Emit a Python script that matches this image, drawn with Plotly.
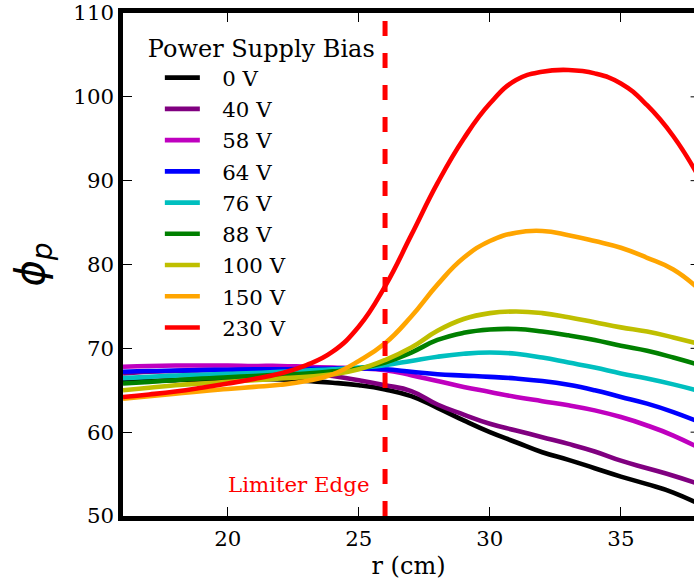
import plotly.graph_objects as go

# Radial positions (cm)
r_cm = [16, 17, 18, 19, 20, 21, 22, 23, 24, 25, 26, 27, 28, 29, 30,
        31, 32, 33, 34, 35, 36, 37, 38]

# Plasma potential profiles for each power-supply bias
phi_0V = [66.0, 66.1, 66.2, 66.3, 66.3, 66.3, 66.3, 66.1, 65.9, 65.6, 65.1, 64.3,
          62.9, 61.4, 60.0, 58.8, 57.6, 56.7, 55.7, 54.7, 53.8, 52.8, 51.4]
phi_40V = [67.0, 67.2, 67.3, 67.4, 67.4, 67.4, 67.3, 67.1, 66.7, 66.2, 65.6, 64.9,
           63.3, 62.1, 61.0, 60.2, 59.4, 58.6, 57.7, 56.6, 55.7, 54.8, 53.8]
phi_58V = [67.8, 67.9, 67.95, 67.95, 67.95, 67.9, 67.9, 67.8, 67.7, 67.6, 67.4, 66.8,
           66.1, 65.4, 64.8, 64.2, 63.7, 63.2, 62.6, 61.8, 60.8, 59.6, 58.1]
phi_64V = [67.2, 67.3, 67.35, 67.4, 67.45, 67.5, 67.5, 67.55, 67.6, 67.6, 67.5, 67.2,
           66.9, 66.75, 66.6, 66.4, 66.1, 65.65, 65.0, 64.2, 63.4, 62.4, 61.2]
phi_76V = [66.45, 66.6, 66.75, 66.85, 66.95, 67.05, 67.2, 67.35, 67.5, 67.7, 68.0, 68.5,
           69.0, 69.35, 69.5, 69.35, 68.9, 68.3, 67.7, 67.0, 66.4, 65.7, 64.9]
phi_88V = [65.8, 66.0, 66.2, 66.4, 66.55, 66.7, 66.85, 67.0, 67.25, 67.6, 68.3, 69.5,
           71.0, 71.85, 72.25, 72.3, 72.0, 71.55, 71.0, 70.3, 69.7, 68.9, 68.0]
phi_100V = [65.0, 65.3, 65.6, 65.8, 66.0, 66.2, 66.4, 66.6, 66.9, 67.5, 68.6, 70.1,
            72.1, 73.5, 74.2, 74.4, 74.2, 73.7, 73.1, 72.5, 72.0, 71.3, 70.5]
phi_150V = [64.0, 64.3, 64.6, 64.9, 65.15, 65.4, 65.65, 66.1, 66.9, 68.5, 70.6, 73.8,
            77.6, 80.8, 82.8, 83.8, 84.0, 83.5, 82.8, 82.0, 80.8, 79.4, 77.0]
phi_230V = [64.2, 64.5, 64.85, 65.3, 65.8, 66.35, 67.0, 68.0, 69.6, 72.6, 77.4, 83.5,
            89.7, 95.0, 99.2, 102.0, 103.0, 103.2, 102.8, 101.6, 99.0, 95.3, 90.3]

bias_labels = ["0 V", "40 V", "58 V", "64 V", "76 V", "88 V", "100 V", "150 V", "230 V"]
profiles = [phi_0V, phi_40V, phi_58V, phi_64V, phi_76V, phi_88V, phi_100V, phi_150V, phi_230V]
colors = ["#000000", "#800080", "#bf00bf", "#0000ff", "#00bfbf",
          "#008000", "#bfbf00", "#ffa500", "#ff0000"]

limiter_r = 26
x_ticks = [20, 25, 30, 35]
y_ticks = [50, 60, 70, 80, 90, 100, 110]
x_range = [16, 37.79]
y_range = [50, 110]

SERIF = "DejaVu Serif"
FS = 21.3

fig = go.Figure()
for label, phi, col in zip(bias_labels, profiles, colors):
    fig.add_trace(go.Scatter(
        x=r_cm, y=phi, mode="lines", name="\u2002\u00a0" + label,
        legendgroup=label,
        line=dict(color=col, width=4.6, shape="spline", smoothing=1.3),
    ))

# Limiter edge marker
fig.add_trace(go.Scatter(
    x=[limiter_r, limiter_r], y=[y_range[0], y_range[1]], mode="lines",
    line=dict(color="#ff0000", width=5, dash="15px,17px"),
    showlegend=False, hoverinfo="skip",
))

fig.add_annotation(
    x=22.7, y=53.8, xref="x", yref="y", text="Limiter Edge", showarrow=False,
    font=dict(family=SERIF, size=FS, color="#ff0000"),
)

# Inward tick marks on the right-hand spine
for yv in y_ticks[1:-1]:
    fig.add_shape(type="line", xref="x", yref="y",
                  x0=37.66, x1=38.0, y0=yv, y1=yv,
                  line=dict(color="black", width=1))

fig.update_layout(
    width=694, height=583,
    margin=dict(l=123, r=0, t=12.5, b=67.3, pad=0),
    plot_bgcolor="white", paper_bgcolor="white",
    font=dict(family=SERIF, size=FS, color="black"),
    showlegend=True,
    legend=dict(
        x=0.04, y=0.974, xanchor="left", yanchor="top",
        bgcolor="rgba(0,0,0,0)", borderwidth=0,
        font=dict(family=SERIF, size=FS, color="black"),
        title=dict(text="Power Supply Bias", font=dict(family=SERIF, size=24)),
        itemwidth=35, indentation=14, tracegroupgap=0.55,
    ),
    xaxis=dict(
        range=x_range, tickvals=x_ticks, ticks="inside", ticklen=9, tickwidth=1,
        tickcolor="black", showline=True, linewidth=4.5, linecolor="black",
        mirror="ticks", showgrid=False, zeroline=False,
        tickfont=dict(family=SERIF, size=FS),
        title=dict(text="r (cm)", font=dict(family=SERIF, size=24), standoff=8),
    ),
    yaxis=dict(
        range=y_range, tickvals=y_ticks, ticks="inside", ticklen=9, tickwidth=1,
        tickcolor="black", showline=True, linewidth=4.5, linecolor="black",
        mirror=False, showgrid=False, zeroline=False,
        tickfont=dict(family=SERIF, size=FS),
        title=dict(text="<i>ϕ</i><sub><i>p</i></sub>",
                   font=dict(family="DejaVu Sans", size=40), standoff=18),
    ),
)

fig.write_html("out.html")
